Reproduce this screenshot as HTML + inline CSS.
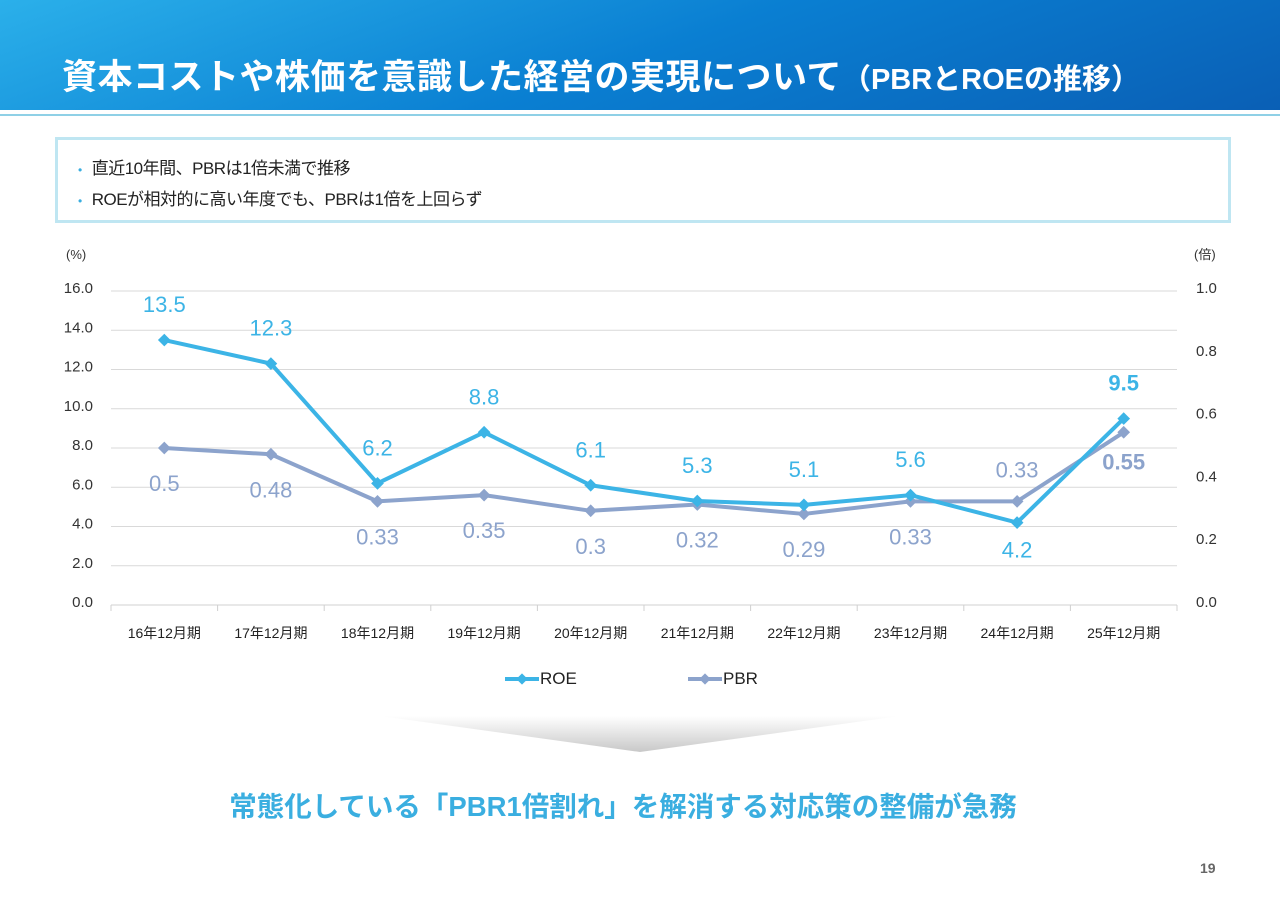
<!DOCTYPE html>
<html><head><meta charset="utf-8">
<style>
body{margin:0;width:1280px;height:904px;background:#fff;position:relative;overflow:hidden;font-family:"Liberation Sans","Noto Sans CJK JP",sans-serif}
#hdr{position:absolute;left:0;top:0;width:1280px;height:110px;background:linear-gradient(160deg,#2bb0ea 0%,#0a7fd2 50%,#0a5fb5 100%)}
#hdr h1{position:absolute;left:62px;top:49px;margin:0;color:#fff;font-size:35px;font-weight:bold;letter-spacing:0.5px;white-space:nowrap}
#hline{position:absolute;left:0;top:114px;width:1280px;height:2px;background:#8fd0e6}
#box{position:absolute;left:55px;top:137px;width:1170px;height:80px;border:3px solid #bfe6f2}
#box div{position:absolute;left:20px;font-size:17px;color:#222;letter-spacing:-0.5px}
#box span{color:#3aaee0;margin-right:10px;font-size:12px}
#concl{position:absolute;left:0;width:1246px;top:784px;text-align:center;color:#3aaee0;font-size:27.5px;font-weight:bold}
#pg{position:absolute;left:1200px;top:860px;font-size:14px;color:#666;font-weight:bold}
</style></head><body>
<div id="hdr"><h1>資本コストや株価を意識した経営の実現について<span style="font-size:29px;letter-spacing:0">（PBRとROEの推移）</span></h1></div>
<div id="hline"></div>
<div id="box">
<div style="top:14px"><span>•</span>直近10年間、PBRは1倍未満で推移</div>
<div style="top:45px"><span>•</span>ROEが相対的に高い年度でも、PBRは1倍を上回らず</div>
</div>
<svg id="chart" width="1280" height="904" style="position:absolute;left:0;top:0">
<defs><linearGradient id="arr" x1="0" y1="0" x2="0" y2="1"><stop offset="0" stop-color="#fff"/><stop offset="1" stop-color="#c8c8c8"/></linearGradient></defs>
<polygon points="380,716 900,716 640,752" fill="url(#arr)"/>
</svg>
<div id="concl">常態化している「PBR1倍割れ」を解消する対応策の整備が急務</div>
<div id="pg">19</div>
<script>
const categories=["16年12月期","17年12月期","18年12月期","19年12月期","20年12月期","21年12月期","22年12月期","23年12月期","24年12月期","25年12月期"];
const roeValues=[13.5,12.3,6.2,8.8,6.1,5.3,5.1,5.6,4.2,9.5];
const pbrValues=[0.5,0.48,0.33,0.35,0.3,0.32,0.29,0.33,0.33,0.55];
const leftTicks=[0,2,4,6,8,10,12,14,16];
const rightTicks=[0,0.2,0.4,0.6,0.8,1.0];
const roeLabelBelow=[false,false,false,false,false,false,false,false,true,false];
const pbrLabelAbove=[false,false,false,false,false,false,false,false,true,false];
const NS="http://www.w3.org/2000/svg";
const svg=document.getElementById('chart');
const X0=111,X1=1177,Y0=605,Y1=291;
const band=(X1-X0)/categories.length;
const xs=i=>X0+band*(i+0.5);
const yL=v=>Y0-(v/16)*(Y0-Y1);
const yR=v=>Y0-(v/1)*(Y0-Y1);
function mk(tag,attrs,txt){const e=document.createElementNS(NS,tag);for(const k in attrs)e.setAttribute(k,attrs[k]);if(txt!==undefined)e.textContent=txt;svg.appendChild(e);return e;}
leftTicks.forEach(t=>{
 if(t>0){const g=mk('line',{x1:X0,x2:X1,y1:yL(t),y2:yL(t),stroke:'#d9d9d9','stroke-width':1});
 
 }
 const l=mk('text',{x:93,y:yL(t)+2,'text-anchor':'end','font-size':15,fill:'#333'},t.toFixed(1));
 
 
});
rightTicks.forEach(t=>{
 const l=mk('text',{x:1196,y:yR(t)+2,'font-size':15,fill:'#333'},t.toFixed(1));
 
 
});
const ax=mk('line',{x1:X0,x2:X1,y1:Y0,y2:Y0,stroke:'#d0d0d0','stroke-width':1});


const u1=mk('text',{x:66,y:259,'font-size':13,fill:'#333'},'(%)');


const u2=mk('text',{x:1194,y:259,'font-size':13,fill:'#333'},'(倍)');


categories.forEach((c,i)=>{
 const tk=mk('line',{x1:X0+band*i,x2:X0+band*i,y1:Y0,y2:Y0+6,stroke:'#d0d0d0'});
 
 
 const l=mk('text',{x:xs(i),y:638,'text-anchor':'middle','font-size':14,fill:'#222'},c);
 
 
});
const tkE=mk('line',{x1:X1,x2:X1,y1:Y0,y2:Y0+6,stroke:'#d0d0d0'});


function series(vals,yf,color,name){
 const p=mk('polyline',{points:vals.map((v,i)=>xs(i)+','+yf(v)).join(' '),fill:'none',stroke:color,'stroke-width':4,'stroke-linejoin':'round'});
 
 
 vals.forEach((v,i)=>{
  const d=mk('rect',{x:xs(i)-4.5,y:yf(v)-4.5,width:9,height:9,fill:color,transform:`rotate(45 ${xs(i)} ${yf(v)})`});
  
  
 });
}
series(pbrValues,yR,'#8ca3cc','pbr');
series(roeValues,yL,'#3cb4e6','roe');
roeValues.forEach((v,i)=>{
 const last=i===roeValues.length-1;
 const l=mk('text',{x:xs(i),y:roeLabelBelow[i]?yL(v)+35:yL(v)-28,'text-anchor':'middle','font-size':22,fill:'#3cb4e6','font-weight':last?'bold':'normal'},v.toFixed(1));
 
 
});
pbrValues.forEach((v,i)=>{
 const last=i===pbrValues.length-1;
 const l=mk('text',{x:xs(i),y:pbrLabelAbove[i]?yR(v)-24:(last?yR(v)+37:yR(v)+43),'text-anchor':'middle','font-size':22,fill:'#8ca3cc','font-weight':last?'bold':'normal'},String(v));
 
 
});
[['ROE','#3cb4e6',505],['PBR','#8ca3cc',688]].forEach(([n,c,x])=>{
 const g=mk('line',{x1:x,x2:x+34,y1:679,y2:679,stroke:c,'stroke-width':4});
 
 
 const d=mk('rect',{x:x+13,y:675,width:8,height:8,fill:c,transform:`rotate(45 ${x+17} 679)`});
 
 
 const t=mk('text',{x:x+35,y:684,'font-size':17,fill:'#222'},n);
 
 
});
</script>
</body></html>
